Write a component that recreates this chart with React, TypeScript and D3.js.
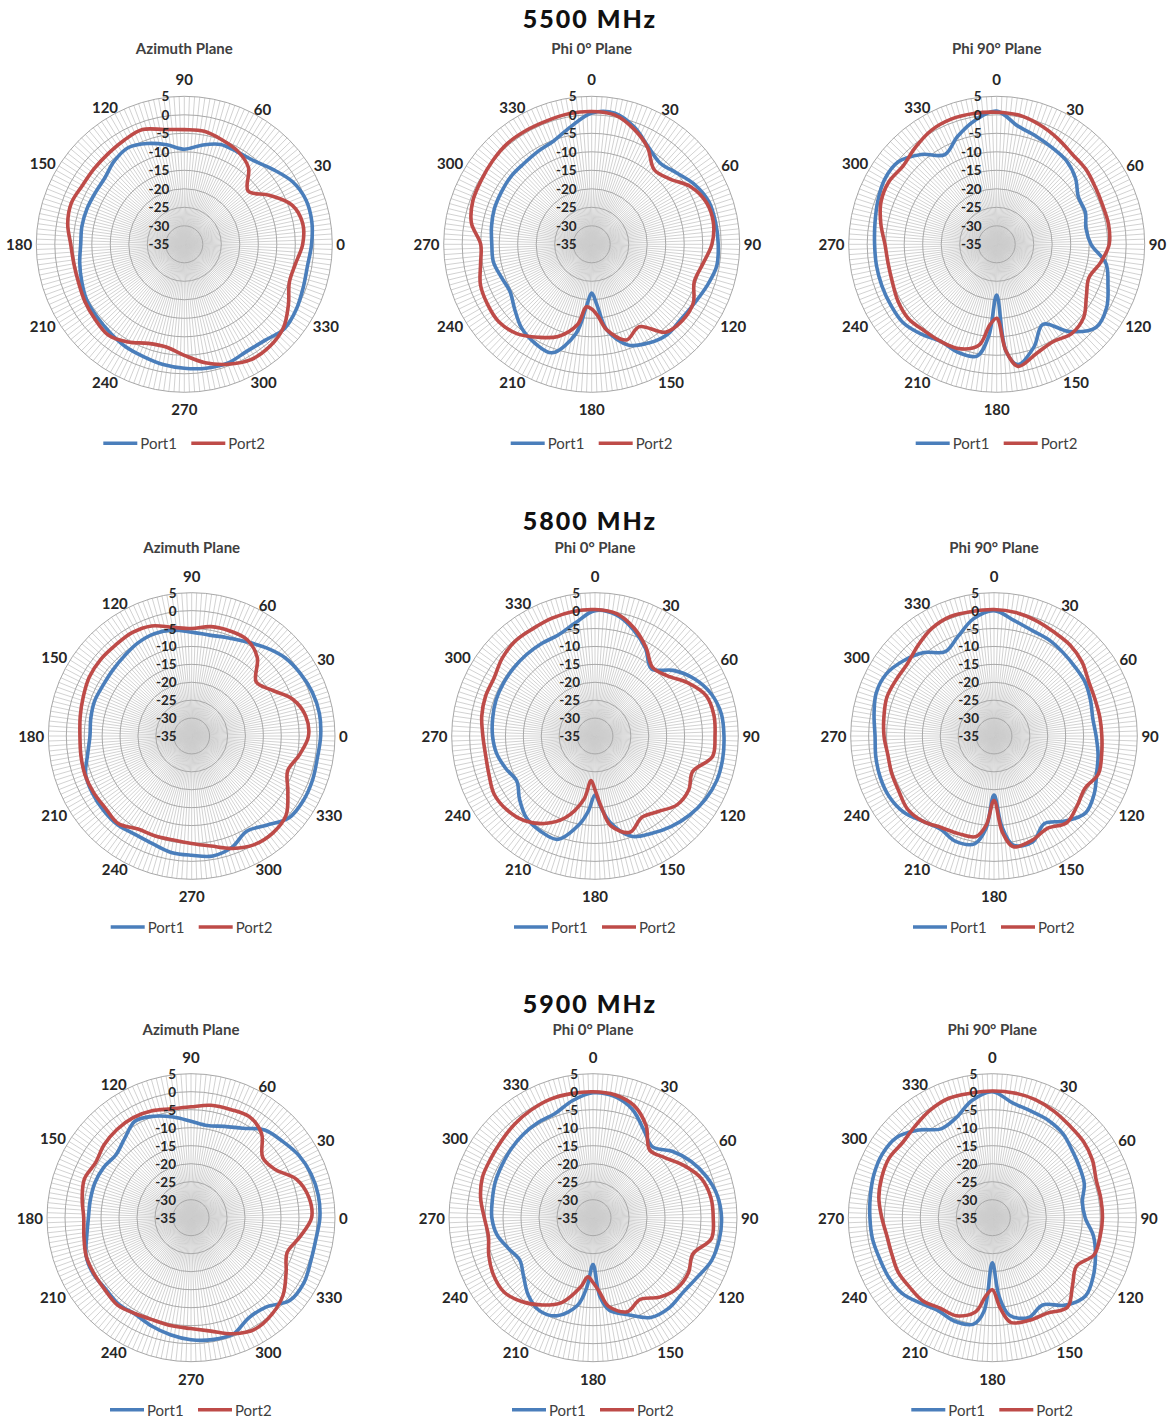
import React from "react";
import * as d3 from "d3";

// angles (deg) at which the pattern was read
const azAngles = [0, 10, 20, 30, 40, 50, 60, 70, 80, 90, 100, 110, 120, 130, 140, 150, 160, 170, 180, 190, 200, 210, 220, 230, 240, 250, 260, 270, 280, 290, 300, 310, 320, 330, 340, 350];
const phiAngles = [0, 10, 20, 30, 40, 50, 60, 70, 80, 90, 100, 110, 120, 130, 140, 150, 160, 170, 175, 180, 185, 190, 200, 210, 220, 230, 240, 250, 260, 270, 280, 290, 300, 310, 320, 330, 340, 350];

const radialTicks = [5, 0, -5, -10, -15, -20, -25, -30, -35];
const angleTicks = [0, 30, 60, 90, 120, 150, 180, 210, 240, 270, 300, 330];
const bands = ["5500 MHz", "5800 MHz", "5900 MHz"];
const planes = ["Azimuth Plane", "Phi 0° Plane", "Phi 90° Plane"];
const ports = ["Port1", "Port2"];

// gain in dB, 5500 MHz
const az5500Port1 = [-0.6, 0, 0, -1.2, -3.6, -5.6, -6.2, -6.3, -7.8, -9.3, -7.7, -6, -4.8, -5.6, -7, -7.2, -7, -6.9, -7, -6.3, -5.5, -4.6, -4.3, -3.8, -3.1, -2.7, -2, -1.5, -1, -0.8, -1.5, -1.1, 0.4, 0, -0.8, -1.2];
const az5500Port2 = [-3, -2.5, -4, -8.5, -12.5, -8, -6, -5, -4, -4, -3.5, -2, -2.5, -3, -3.2, -3.2, -2.5, -3, -4.3, -4.7, -4.6, -4, -3.5, -3, -4.5, -6.5, -6.8, -5, -2.5, -0.5, 1, 1, 0, -2.5, -4.8, -4.5];
const phi0_5500Port1 = [0.5, 1, -1.3, -4.5, -6.3, -5, -2.8, -1.3, -1, -0.8, -0.7, -1.9, -3, -3.5, -3.2, -4.2, -6, -11.5, -18.5, -21.8, -18, -10.5, -3.8, -4.2, -5.5, -7.8, -9.5, -9, -8, -8, -7.5, -7, -6.8, -6.5, -6.5, -6, -5.2, -2.7];
const phi0_5500Port2 = [0.9, 0.5, -1.8, -4.8, -8.7, -7.5, -4, -2, -1.6, -2.5, -4.5, -5.5, -3.3, -3, -4, -9.3, -7.5, -11.5, -15.5, -17.5, -18, -13, -8.5, -6, -3.5, -2.3, -2.5, -3, -4.5, -5, -2, -0.8, -0.5, 0, 0.5, 0.5, 0.5, 0.8];
const phi90_5500Port1 = [1, -2.5, -3.9, -4.9, -5.6, -7.2, -9.5, -9.5, -10.5, -9.5, -5, -3, -0.7, 0, -4.2, -10, -5.5, -2, -6, -21.3, -10, -4.3, -4, -4.7, -3.3, -2, -2, -2, -2, -2, -1.6, -0.8, 0, -0.3, -3.3, -7, -4, -1];
const phi90_5500Port2 = [0.7, 0.4, -0.7, -2, -3.2, -3.5, -4.2, -4.5, -4.3, -4.6, -6.5, -8.5, -7, -4.3, -3.5, -4.6, -3.6, -1.5, -6, -15, -13, -7.3, -5, -4.7, -4.5, -3.8, -4.2, -5, -5.2, -4.8, -3.2, -1.7, -1.3, -2, -0.8, 0.5, 1, 0.9];

// gain in dB, 5800 MHz
const az5800Port1 = [1, 1.2, 0.8, 0, -1, -2.8, -4.6, -5.8, -6.4, -6, -5, -4.6, -5, -5.8, -6.3, -6.5, -6.2, -6.4, -6.6, -5.5, -3.5, -3, -2.8, -2.7, -3.3, -3, -2, -1.7, -1, -2, -4.3, -2.5, 0.5, 1, 0.9, 0.6];
const az5800Port2 = [-2.4, -2.7, -5, -9.3, -11.5, -6.5, -4, -3.8, -4, -5, -4.2, -2.3, -1.7, -1.9, -1.8, -2, -2.8, -3.4, -3.8, -3.6, -3.3, -3.4, -3.6, -3.1, -5, -5.3, -5.5, -5, -3.8, -1.6, 0, 0.3, -0.6, -4, -6.5, -4.5];
const phi0_5800Port1 = [0, -0.7, -3.5, -6.8, -10.5, -6.5, -3, -0.5, 0.8, 1, 1.2, 1.2, 0.5, -0.6, -2, -3.6, -5.2, -10.5, -14.8, -18.5, -14, -10, -4.3, -4.4, -5.2, -7.5, -9.8, -8.5, -7.1, -6.4, -6, -5.6, -5.5, -5.4, -5.3, -5.2, -5, -3];
const phi0_5800Port2 = [0.3, -0.3, -3, -6.5, -10, -8.8, -5.2, -2, -1.3, -1.5, -1.7, -6, -4.8, -5.1, -7.5, -8.8, -6.4, -9.5, -15.2, -20, -22.5, -17, -10.7, -6.8, -4.2, -2.9, -2.5, -3.5, -4, -3.7, -2.9, -2.5, -2.5, -1.2, -0.4, -0.4, 0, 0.3];
const phi90_5800Port1 = [0, -2.3, -3.7, -4.1, -4.8, -5.3, -5.5, -6.3, -7, -6.5, -5.5, -4.5, -2.7, -1.6, -4, -6.8, -3.5, -4.1, -9.6, -18.5, -9, -4.5, -3.7, -5, -4, -2, -1.2, -1.2, -1.5, -1.8, -1, 0, -0.3, -2.2, -4.6, -7.8, -5.5, -1.8];
const phi90_5800Port2 = [0.3, 0, -0.7, -1.5, -1.9, -2.9, -4.5, -5, -5, -4.9, -4.5, -4, -5.7, -4.7, -3.4, -5.2, -4, -3.6, -8, -17, -10, -6.5, -6, -5.5, -4, -3.4, -4.3, -4.6, -4.9, -4.3, -3.8, -3.2, -3.5, -3.5, -2, -0.3, 0.5, 0.3];

// gain in dB, 5900 MHz
const az5900Port1 = [0.8, 0.9, 0.5, -0.4, -1.9, -3.2, -6.3, -8, -9, -8.2, -6.6, -5, -4, -6.3, -7.8, -7, -6.6, -6.6, -6.5, -5.6, -4, -3.7, -4.1, -3.7, -4, -3, -2, -1.1, -0.6, -0.6, -2.9, -2.6, 0.8, 1.2, 0.4, 0.2];
const az5900Port2 = [-1.5, -1.8, -3.8, -8.1, -9, -4.5, -2.6, -3, -3.3, -4.2, -4.3, -3.4, -2.9, -3, -3.5, -4.4, -3.5, -4.3, -5.2, -4.8, -4, -3.9, -3.8, -3.3, -4.2, -4.7, -4.5, -4.2, -3, -0.7, 0.7, 0, -1.6, -4.5, -6.6, -4.3];
const phi0_5900Port1 = [-0.3, -0.8, -3, -6.8, -9.3, -6.3, -3.6, -1.5, 0.1, 0.7, 0.6, 0, -1.7, -2.5, -2.2, -3, -6.3, -8.9, -13, -22, -15.7, -10.3, -6, -5.2, -7, -9.8, -11.5, -10, -7.9, -6.9, -6.6, -6.1, -5.8, -5.3, -4.8, -4.5, -4.2, -2];
const phi0_5900Port2 = [0, -0.3, -1.8, -5.5, -10.5, -9, -5.9, -3, -1.8, -1.6, -1.6, -5.5, -4.4, -4.5, -6.2, -8.8, -7.2, -10, -14.3, -17, -18.5, -15.5, -10, -7, -4.5, -2.8, -3.1, -4.2, -5.5, -4.8, -3.3, -2.3, -2.2, -1.8, -1.1, -0.5, 0, 0];
const phi90_5900Port1 = [0, -2.6, -3.5, -3.8, -4.5, -6, -7, -7.8, -9.6, -9.2, -6.5, -4.5, -2.6, -1.2, -3.3, -7, -5.5, -7.5, -13, -22.5, -9, -5, -4.4, -5.1, -4, -2.3, -1.8, -1.7, -1.2, -1, -0.6, 0, 0.3, -0.3, -3.2, -6.5, -5.5, -2];
const phi90_5900Port2 = [0.2, 0.2, -0.1, -0.8, -1.6, -2, -2.9, -4.3, -4.4, -4.4, -4.6, -4.9, -8, -5.9, -2.5, -4.4, -4.7, -5.5, -9.8, -15, -13, -8.5, -6, -6, -4.9, -5, -4.8, -5.3, -5.3, -4.3, -3, -2.3, -1.9, -2.5, -1.7, -0.5, 0.3, 0.1];

const BLUE = "#4a7ebb";
const RED = "#be4b48";
const FONT = "Lato, 'Open Sans', sans-serif";

const rows = [
  { heading: bands[0], headY: 18, cy: 244.3, R: 148, cxs: [184.3, 591.7, 996.7], titleDy: -196, legendDy: 199,
    series: [[az5500Port1, az5500Port2], [phi0_5500Port1, phi0_5500Port2], [phi90_5500Port1, phi90_5500Port2]] },
  { heading: bands[1], headY: 520, cy: 736, R: 143.3, cxs: [191.7, 595, 994], titleDy: -189, legendDy: 191,
    series: [[az5800Port1, az5800Port2], [phi0_5800Port1, phi0_5800Port2], [phi90_5800Port1, phi90_5800Port2]] },
  { heading: bands[2], headY: 1003, cy: 1217.7, R: 144, cxs: [191, 593, 992.3], titleDy: -189, legendDy: 192,
    series: [[az5900Port1, az5900Port2], [phi0_5900Port1, phi0_5900Port2], [phi90_5900Port1, phi90_5900Port2]] },
];

function Polar({ cx, cy, R, azimuth, p1, p2, title, titleDy, legendDy }) {
  const r = d3.scaleLinear().domain([-35, 5]).range([0, R]);
  // d3 radial angle: 0 at 12 o'clock, clockwise
  const toRad = azimuth ? (d) => ((90 - d) * Math.PI) / 180 : (d) => (d * Math.PI) / 180;
  const angles = azimuth ? azAngles : phiAngles;
  const line = d3
    .lineRadial()
    .angle((d) => toRad(d[0]))
    .radius((d) => r(d[1]))
    .curve(d3.curveCatmullRomClosed.alpha(0.5));
  const spokes = d3.range(0, 360, 2);
  const rings = radialTicks.filter((v) => v > -35);

  const lx = cx - 81;
  const ly = cy + legendDy;

  return (
    <g>
      <text x={cx} y={cy + titleDy} textAnchor="middle" dominantBaseline="central"
        style={{ font: `bold 15px ${FONT}`, fill: "#404040" }}>{title}</text>
      <g transform={`translate(${cx},${cy})`}>
        {spokes.map((s) => (
          <line key={s} x1={0} y1={0} x2={R * Math.sin((s * Math.PI) / 180)} y2={-R * Math.cos((s * Math.PI) / 180)}
            stroke="#cdcdcd" strokeWidth={0.9} />
        ))}
        {rings.map((v) => (
          <circle key={v} r={r(v)} fill="none" stroke="#a8a8a8" strokeWidth={1} />
        ))}
        <path d={line(angles.map((a, i) => [a, p1[i]]))} fill="none" stroke={BLUE} strokeWidth={3.6} strokeLinejoin="round" />
        <path d={line(angles.map((a, i) => [a, p2[i]]))} fill="none" stroke={RED} strokeWidth={3.6} strokeLinejoin="round" />
        {radialTicks.map((v) => (
          <text key={v} x={-15} y={-r(v)} textAnchor="end" dominantBaseline="central"
            style={{ font: `bold 13.5px ${FONT}`, fill: "#262626" }}>{v}</text>
        ))}
        {angleTicks.map((a) => {
          const t = toRad(a);
          const dx = Math.sin(t);
          const dy = -Math.cos(t);
          const halfW = String(a).length * 4.4;
          const d = R + 4 + halfW * Math.abs(dx) + (Math.abs(dy) > 0.95 ? 13 : 0);
          return (
            <text key={a} x={d * dx} y={d * dy} textAnchor="middle" dominantBaseline="central"
              style={{ font: `bold 15px ${FONT}`, fill: "#262626" }}>{a}</text>
          );
        })}
      </g>
      <g transform={`translate(${lx},${ly})`}>
        <line x1={0} x2={34} y1={0} y2={0} stroke={BLUE} strokeWidth={3.6} />
        <text x={37} y={0} dominantBaseline="central" style={{ font: `15px ${FONT}`, fill: "#404040" }}>{ports[0]}</text>
        <line x1={88} x2={122} y1={0} y2={0} stroke={RED} strokeWidth={3.6} />
        <text x={125} y={0} dominantBaseline="central" style={{ font: `15px ${FONT}`, fill: "#404040" }}>{ports[1]}</text>
      </g>
    </g>
  );
}

export default function App() {
  return (
    <svg width={1169} height={1420} style={{ position: "absolute", left: 0, top: 0, background: "#fff" }}>
      <rect width={1169} height={1420} fill="#fff" />
      {rows.map((row, ri) => (
        <g key={ri}>
          <text x={590} y={row.headY} textAnchor="middle" dominantBaseline="central"
            style={{ font: `900 25px ${FONT}`, fill: "#111", letterSpacing: "2px" }}>{row.heading}</text>
          {row.cxs.map((cx, ci) => (
            <Polar key={ci} cx={cx} cy={row.cy} R={row.R} azimuth={ci === 0}
              p1={row.series[ci][0]} p2={row.series[ci][1]} title={planes[ci]}
              titleDy={row.titleDy} legendDy={row.legendDy} />
          ))}
        </g>
      ))}
    </svg>
  );
}
